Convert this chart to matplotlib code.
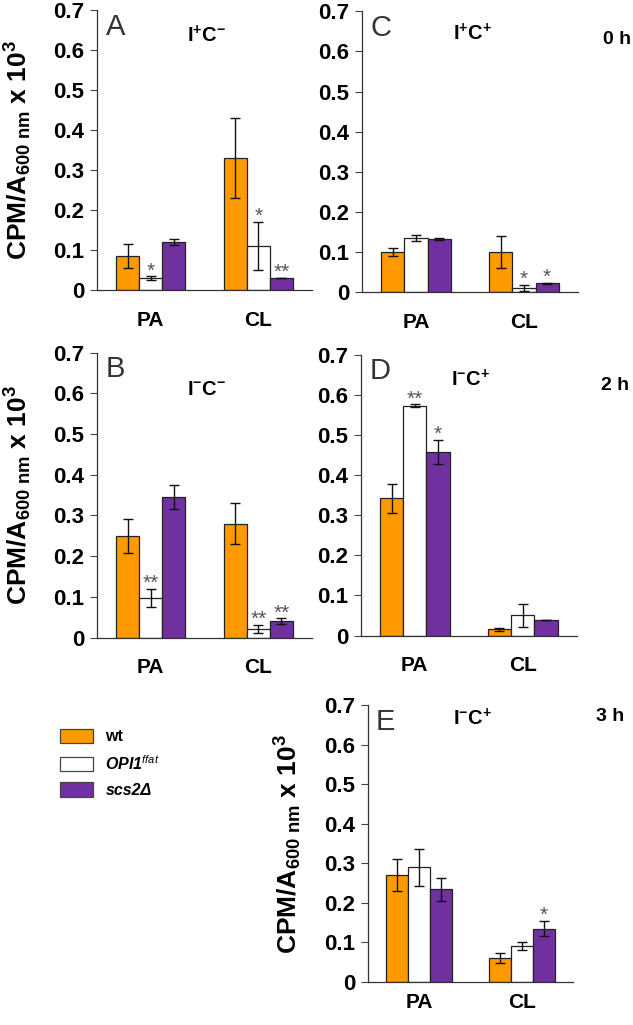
import matplotlib
matplotlib.use('Agg')
import matplotlib.pyplot as plt
from matplotlib.patches import Patch
import numpy as np

plt.rcParams['font.family'] = ['Liberation Sans', 'DejaVu Sans']
plt.rcParams['mathtext.fontset'] = 'custom'
plt.rcParams['mathtext.rm'] = 'Liberation Sans:bold'
plt.rcParams['mathtext.it'] = 'Liberation Sans:italic'
plt.rcParams['mathtext.bf'] = 'Liberation Sans:bold'

# data
lipids = ['PA', 'CL']
colors = ['#FF9900', '#FFFFFF', '#7030A0']

# panel A  I+C-  0 h
a_wt = [0.085, 0.33]
a_wt_err = [0.030, 0.100]
a_opi = [0.030, 0.110]
a_opi_err = [0.004, 0.060]
a_scs = [0.120, 0.030]
a_scs_err = [0.007, 0.001]
a_stars = [['', '*', ''], ['', '*', '**']]

# panel C  I+C+  0 h
c_wt = [0.100, 0.100]
c_wt_err = [0.011, 0.041]
c_opi = [0.135, 0.010]
c_opi_err = [0.008, 0.008]
c_scs = [0.132, 0.022]
c_scs_err = [0.002, 0.001]
c_stars = [['', '', ''], ['', '*', '*']]

# panel B  I-C-  2 h
b_wt = [0.250, 0.280]
b_wt_err = [0.042, 0.050]
b_opi = [0.097, 0.022]
b_opi_err = [0.023, 0.010]
b_scs = [0.345, 0.040]
b_scs_err = [0.030, 0.007]
b_stars = [['', '**', ''], ['', '**', '**']]

# panel D  I-C+  2 h
d_wt = [0.342, 0.015]
d_wt_err = [0.036, 0.004]
d_opi = [0.573, 0.050]
d_opi_err = [0.003, 0.028]
d_scs = [0.458, 0.038]
d_scs_err = [0.030, 0.000]
d_stars = [['', '**', '*'], ['', '', '']]

# panel E  I-C+  3 h
e_wt = [0.270, 0.060]
e_wt_err = [0.040, 0.012]
e_opi = [0.290, 0.090]
e_opi_err = [0.047, 0.010]
e_scs = [0.235, 0.135]
e_scs_err = [0.029, 0.020]
e_stars = [['', '', ''], ['', '', '*']]

ytick_vals = [0, 0.1, 0.2, 0.3, 0.4, 0.5, 0.6, 0.7]
ytick_labels = ['0', '0.1', '0.2', '0.3', '0.4', '0.5', '0.6', '0.7']
ylab = r'CPM/A$_{\mathregular{600\ nm}}$ x 10$^{\mathregular{3}}$'


def draw_panel(ax, vals, errs, stars, letter, cond, cond_y, time=None, time_y=0.9,
               ylabel=None, xpad=15):
    x = np.arange(len(lipids))
    w = 0.215
    for i in range(3):
        pos = x + (i - 1) * w
        ax.bar(pos, vals[i], w, color=colors[i], edgecolor='#222222',
               linewidth=0.9, zorder=2)
        ax.errorbar(pos, vals[i], yerr=errs[i], fmt='none', ecolor='#111111',
                    elinewidth=1.0, capsize=3.5, capthick=1.0, zorder=3)
        for j in range(len(lipids)):
            s = stars[j][i]
            if s:
                ax.annotate(s, (pos[j], vals[i][j] + errs[i][j]),
                            xytext=(0, 0), textcoords='offset points',
                            ha='center', va='baseline', fontsize=15,
                            color='#555555')
    ax.set_xlim(-0.5, 1.5)
    ax.set_ylim(0, 0.7)
    ax.set_yticks(ytick_vals)
    ax.set_yticklabels(ytick_labels, fontsize=16, fontweight='bold')
    ax.set_xticks(x)
    ax.set_xticklabels(lipids, fontsize=15, fontweight='bold')
    ax.tick_params(axis='x', length=0, pad=xpad)
    ax.tick_params(axis='y', length=5, width=0.8, pad=4, color='#444444')
    for sp in ['top', 'right']:
        ax.spines[sp].set_visible(False)
    for sp in ['left', 'bottom']:
        ax.spines[sp].set_color('#333333')
        ax.spines[sp].set_linewidth(0.9)
    ax.text(0.04, 0.99, letter, transform=ax.transAxes, fontsize=21,
            color='#333333', va='top', ha='left')
    ax.text(0.51, cond_y, cond, transform=ax.transAxes, fontsize=14.5,
            fontweight='bold', ha='center', va='center')
    if time:
        ax.text(1.18, time_y, time, transform=ax.transAxes, fontsize=14,
                fontweight='bold', ha='center', va='center')
    if ylabel is not None:
        ax.set_ylabel(ylab, fontsize=19, fontweight='bold')
        ax.yaxis.set_label_coords(ylabel, 0.5)


fig = plt.figure(figsize=(6.33, 10.25), dpi=100)
axA = fig.add_axes([0.153, 0.717, 0.340, 0.273])
axC = fig.add_axes([0.572, 0.715, 0.341, 0.274])
axB = fig.add_axes([0.153, 0.378, 0.340, 0.278])
axD = fig.add_axes([0.570, 0.380, 0.341, 0.274])
axE = fig.add_axes([0.581, 0.042, 0.324, 0.270])

draw_panel(axA, [a_wt, a_opi, a_scs], [a_wt_err, a_opi_err, a_scs_err], a_stars,
           'A', r'I$^{\mathregular{+}}$C$^{\mathregular{-}}$', 0.91, ylabel=-0.29)
draw_panel(axC, [c_wt, c_opi, c_scs], [c_wt_err, c_opi_err, c_scs_err], c_stars,
           'C', r'I$^{\mathregular{+}}$C$^{\mathregular{+}}$', 0.92, time='0 h',
           time_y=0.90)
draw_panel(axB, [b_wt, b_opi, b_scs], [b_wt_err, b_opi_err, b_scs_err], b_stars,
           'B', r'I$^{\mathregular{-}}$C$^{\mathregular{-}}$', 0.87, ylabel=-0.29)
draw_panel(axD, [d_wt, d_opi, d_scs], [d_wt_err, d_opi_err, d_scs_err], d_stars,
           'D', r'I$^{\mathregular{-}}$C$^{\mathregular{+}}$', 0.91, time='2 h',
           time_y=0.89)
draw_panel(axE, [e_wt, e_opi, e_scs], [e_wt_err, e_opi_err, e_scs_err], e_stars,
           'E', r'I$^{\mathregular{-}}$C$^{\mathregular{+}}$', 0.95, time='3 h',
           time_y=0.96, ylabel=-0.31, xpad=8)

handles = [Patch(facecolor=colors[i], edgecolor='#444444', linewidth=0.9)
           for i in range(3)]
leg_labels = ['wt', r'OPI1$^{\mathit{ffat}}$', 'scs2\u0394']
leg = fig.legend(handles, leg_labels, loc='upper left', bbox_to_anchor=(0.072, 0.303),
                 frameon=False, handlelength=2.1, handleheight=1.0,
                 labelspacing=0.6, handletextpad=0.75,
                 prop={'weight': 'bold', 'size': 11.5})
leg.get_texts()[1].set_style('italic')
leg.get_texts()[2].set_style('italic')

fig.savefig('out.png', dpi=100)
